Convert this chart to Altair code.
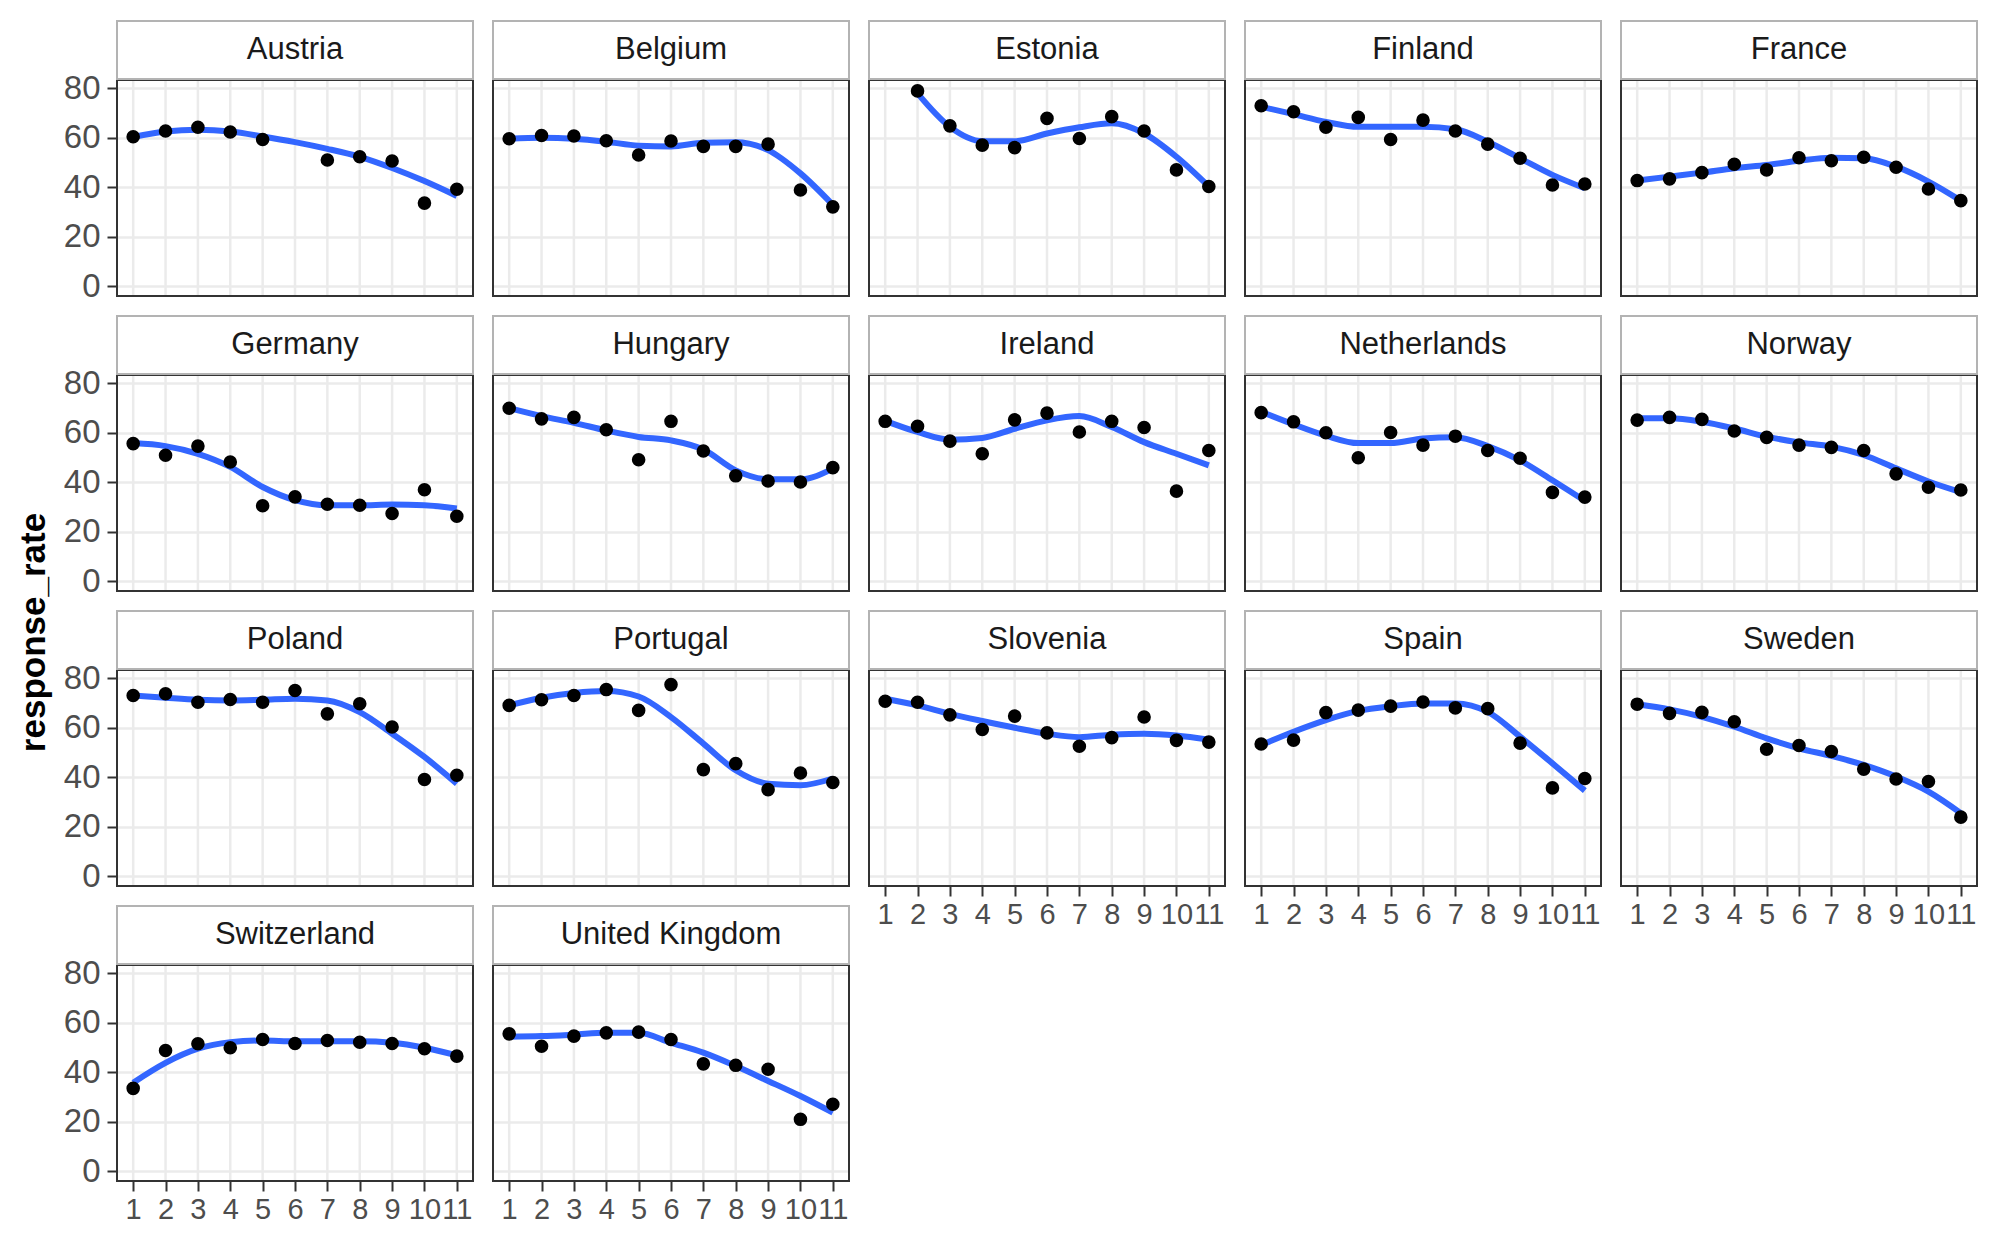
import altair as alt
import pandas as pd

ROUNDS = list(range(1, 12))
Y_TICKS = [0, 20, 40, 60, 80]

COUNTRIES = ["Austria", "Belgium", "Estonia", "Finland", "France",
             "Germany", "Hungary", "Ireland", "Netherlands", "Norway",
             "Poland", "Portugal", "Slovenia", "Spain", "Sweden",
             "Switzerland", "United Kingdom"]

# observed response rates per round (None = round not fielded)
RATE_AUSTRIA = [60.4, 62.7, 64.2, 62.3, 59.3, None, 51.0, 52.3, 50.6, 33.6, 39.2]
RATE_BELGIUM = [59.6, 60.9, 60.7, 58.8, 53.0, 58.7, 56.5, 56.5, 57.4, 38.9, 32.1]
RATE_ESTONIA = [None, 78.9, 64.8, 57.0, 56.0, 67.8, 59.7, 68.5, 62.7, 47.0, 40.3]
RATE_FINLAND = [72.9, 70.5, 64.2, 68.2, 59.3, 67.1, 62.7, 57.4, 51.7, 40.9, 41.3]
RATE_FRANCE = [42.7, 43.4, 45.9, 49.3, 47.0, 51.9, 50.7, 52.1, 48.1, 39.3, 34.6]
RATE_GERMANY = [55.6, 50.9, 54.6, 48.2, 30.5, 34.1, 31.1, 30.7, 27.4, 37.0, 26.3]
RATE_HUNGARY = [69.9, 65.6, 66.2, 61.2, 49.1, 64.6, 52.6, 42.6, 40.5, 40.1, 45.9]
RATE_IRELAND = [64.6, 62.6, 56.6, 51.5, 65.2, 67.9, 60.3, 64.6, 62.1, 36.4, 52.8]
RATE_NETHERLANDS = [68.1, 64.4, 60.0, 49.9, 60.1, 55.0, 58.6, 52.8, 49.7, 35.9, 34.0]
RATE_NORWAY = [65.1, 66.2, 65.4, 60.7, 58.1, 55.0, 54.1, 52.8, 43.4, 38.0, 36.9]
RATE_POLAND = [73.0, 73.7, 70.3, 71.4, 70.3, 75.0, 65.6, 69.7, 60.3, 39.1, 40.8]
RATE_PORTUGAL = [69.0, 71.3, 73.0, 75.4, 67.0, 77.4, 43.1, 45.5, 35.0, 41.7, 37.9]
RATE_SLOVENIA = [70.7, 70.3, 65.2, 59.3, 64.7, 57.9, 52.5, 56.0, 64.3, 54.9, 54.2]
RATE_SPAIN = [53.4, 55.0, 66.1, 67.1, 68.7, 70.4, 68.0, 67.7, 53.8, 35.7, 39.5]
RATE_SWEDEN = [69.5, 65.8, 66.2, 62.4, 51.3, 52.8, 50.4, 43.3, 39.3, 38.3, 23.9]
RATE_SWITZERLAND = [33.5, 48.8, 51.5, 49.9, 53.2, 51.6, 52.8, 52.1, 51.6, 49.5, 46.5]
RATE_UK = [55.5, 50.5, 54.6, 55.9, 56.2, 53.2, 43.4, 42.8, 41.2, 21.0, 27.1]

# smoothed trend at each round
SMOOTH_AUSTRIA = [60.3, 62.5, 63.2, 62.5, 60.5, 58.2, 55.5, 52.3, 47.8, 42.5, 36.5]
SMOOTH_BELGIUM = [59.6, 60.0, 59.6, 58.4, 56.8, 56.5, 58.0, 58.2, 55.0, 45.6, 32.9]
SMOOTH_ESTONIA = [None, 77.9, 64.4, 58.6, 58.6, 61.7, 64.2, 65.8, 61.7, 52.3, 40.3]
SMOOTH_FINLAND = [72.5, 69.5, 66.4, 64.4, 64.4, 64.4, 63.4, 58.4, 51.7, 45.0, 39.6]
SMOOTH_FRANCE = [42.7, 44.3, 45.9, 47.7, 49.0, 50.7, 51.9, 51.7, 48.3, 42.3, 34.6]
SMOOTH_GERMANY = [55.8, 54.6, 51.5, 46.2, 38.1, 32.8, 30.7, 30.7, 31.0, 30.7, 29.4]
SMOOTH_HUNGARY = [69.9, 66.7, 64.0, 60.9, 58.3, 56.9, 53.2, 44.8, 41.2, 41.2, 45.5]
SMOOTH_IRELAND = [64.8, 60.3, 57.2, 57.9, 61.6, 65.0, 66.7, 62.3, 56.2, 51.5, 46.8]
SMOOTH_NETHERLANDS = [68.5, 63.4, 58.8, 55.8, 55.8, 57.7, 58.2, 54.6, 48.8, 40.8, 32.5]
SMOOTH_NORWAY = [65.8, 65.8, 64.4, 61.7, 58.4, 56.1, 54.4, 51.0, 45.6, 40.3, 36.0]
SMOOTH_POLAND = [73.0, 72.1, 71.3, 71.0, 71.3, 71.7, 71.0, 66.3, 57.6, 48.2, 37.4]
SMOOTH_PORTUGAL = [69.0, 72.1, 74.0, 74.8, 72.6, 64.3, 53.6, 42.8, 37.4, 36.8, 39.5]
SMOOTH_SLOVENIA = [71.7, 69.0, 65.6, 62.7, 60.0, 57.6, 56.2, 57.2, 57.6, 56.9, 55.2]
SMOOTH_SPAIN = [53.0, 58.4, 63.1, 66.8, 68.7, 69.8, 69.8, 66.4, 56.4, 45.6, 34.6]
SMOOTH_SWEDEN = [69.5, 67.4, 64.4, 60.4, 55.7, 51.7, 48.6, 45.0, 40.3, 34.2, 25.5]
SMOOTH_SWITZERLAND = [35.8, 43.8, 49.5, 52.1, 52.8, 52.5, 52.5, 52.5, 51.9, 49.9, 46.8]
SMOOTH_UK = [54.3, 54.6, 55.2, 55.9, 55.9, 51.9, 47.9, 42.5, 36.5, 30.4, 23.7]

RATES = [RATE_AUSTRIA, RATE_BELGIUM, RATE_ESTONIA, RATE_FINLAND, RATE_FRANCE,
         RATE_GERMANY, RATE_HUNGARY, RATE_IRELAND, RATE_NETHERLANDS, RATE_NORWAY,
         RATE_POLAND, RATE_PORTUGAL, RATE_SLOVENIA, RATE_SPAIN, RATE_SWEDEN,
         RATE_SWITZERLAND, RATE_UK]
SMOOTHS = [SMOOTH_AUSTRIA, SMOOTH_BELGIUM, SMOOTH_ESTONIA, SMOOTH_FINLAND, SMOOTH_FRANCE,
           SMOOTH_GERMANY, SMOOTH_HUNGARY, SMOOTH_IRELAND, SMOOTH_NETHERLANDS, SMOOTH_NORWAY,
           SMOOTH_POLAND, SMOOTH_PORTUGAL, SMOOTH_SLOVENIA, SMOOTH_SPAIN, SMOOTH_SWEDEN,
           SMOOTH_SWITZERLAND, SMOOTH_UK]

# ---- layout / style ----
NCOL = 5
PW, PH, SH, GAP = 356, 216, 58, 1
X0, X1 = 0.5, 11.5
Y0, Y1 = -3.9, 83.3
UPP = (Y1 - Y0) / PH
YS = Y1 + GAP * UPP
YT = Y0 + (PH + GAP + SH) * UPP
FONT = "Liberation Sans"
X_LABEL_SIZE = 29
Y_LABEL_SIZE = 33
STRIP_SIZE = 31
GRID = "#ebebeb"

xscale = alt.Scale(domain=[X0, X1], nice=False, zero=False)
yscale = alt.Scale(domain=[Y0, YT], nice=False, zero=False)


def make_panel(i, name, rate, smooth):
    n = len(COUNTRIES)
    left = (i % NCOL) == 0
    bottom = i + NCOL >= n

    if bottom:
        xaxis = alt.Axis(values=ROUNDS, grid=False, domain=False, title=None,
                         labelFont=FONT, labelFontSize=X_LABEL_SIZE, labelColor="#4d4d4d",
                         tickColor="#333333", tickSize=10, tickWidth=2,
                         labelPadding=4, labelOverlap=False, labelFlush=False)
    else:
        xaxis = None

    if left:
        ykw = dict(values=Y_TICKS, grid=True, gridColor=GRID, gridWidth=2.5, domain=False,
                   labelFont=FONT, labelFontSize=Y_LABEL_SIZE, labelColor="#4d4d4d",
                   tickColor="#333333", tickSize=10, tickWidth=2, labelPadding=7)
        if i == 0:
            ykw.update(title="response_rate", titleFont=FONT, titleFontSize=35,
                       titleFontWeight="bold", titleColor="black", titleX=-84,
                       titleY=611, titleAngle=270, titleAlign="center",
                       titleBaseline="middle")
        else:
            ykw.update(title=None)
        yaxis = alt.Axis(**ykw)
    else:
        yaxis = alt.Axis(values=Y_TICKS, grid=True, gridColor=GRID, gridWidth=2.5,
                         labels=False, ticks=False, domain=False, title=None)

    pts = pd.DataFrame({"round": [r for r, v in zip(ROUNDS, rate) if v is not None],
                        "rate": [v for v in rate if v is not None]})
    sm = pd.DataFrame({"round": [r for r, v in zip(ROUNDS, smooth) if v is not None],
                       "smooth": [v for v in smooth if v is not None]})
    one = pd.DataFrame({"country": [name]})

    grid_x = alt.Chart(pd.DataFrame({"round": ROUNDS})).mark_rule(
        color=GRID, strokeWidth=2.5
    ).encode(
        x=alt.X("round:Q", scale=xscale, axis=xaxis),
        y=alt.YDatum(Y0, scale=yscale, axis=yaxis),
        y2=alt.Y2Datum(Y1),
    )

    line = alt.Chart(sm).mark_line(
        color="#3366FF", strokeWidth=6, interpolate="monotone"
    ).encode(
        x=alt.X("round:Q", scale=xscale, axis=xaxis),
        y=alt.Y("smooth:Q", scale=yscale, axis=yaxis),
    )

    points = alt.Chart(pts).mark_circle(
        color="black", size=185, opacity=1
    ).encode(
        x=alt.X("round:Q", scale=xscale, axis=xaxis),
        y=alt.Y("rate:Q", scale=yscale, axis=yaxis),
    )

    border = alt.Chart(one).mark_rect(
        filled=False, stroke="#333333", strokeWidth=2
    ).encode(
        x=alt.XDatum(X0, scale=xscale, axis=xaxis), x2=alt.X2Datum(X1),
        y=alt.YDatum(Y0, scale=yscale, axis=yaxis), y2=alt.Y2Datum(Y1),
    )

    strip = alt.Chart(one).mark_rect(
        fill="white", stroke="#b3b3b3", strokeWidth=2
    ).encode(
        x=alt.XDatum(X0, scale=xscale, axis=xaxis), x2=alt.X2Datum(X1),
        y=alt.YDatum(YS, scale=yscale, axis=yaxis), y2=alt.Y2Datum(YT),
    )

    label = alt.Chart(one).mark_text(
        font=FONT, fontSize=STRIP_SIZE, color="#1a1a1a"
    ).encode(
        x=alt.XDatum((X0 + X1) / 2, scale=xscale, axis=xaxis),
        y=alt.YDatum((YS + YT) / 2, scale=yscale, axis=yaxis),
        text="country:N",
    )

    return alt.layer(grid_x, line, points, border, strip, label).properties(
        width=PW, height=PH + GAP + SH
    )


panels = [make_panel(i, c, r, s) for i, (c, r, s) in enumerate(zip(COUNTRIES, RATES, SMOOTHS))]

chart = alt.concat(
    *panels, columns=NCOL, spacing=20, bounds="flush", align="all"
).properties(
    padding={"left": 7, "top": 11, "right": 5, "bottom": 5}
).configure_view(
    stroke=None
).configure(
    font=FONT, background="white"
)

chart.save("out.html", embed_options={"renderer": "svg", "actions": False})
